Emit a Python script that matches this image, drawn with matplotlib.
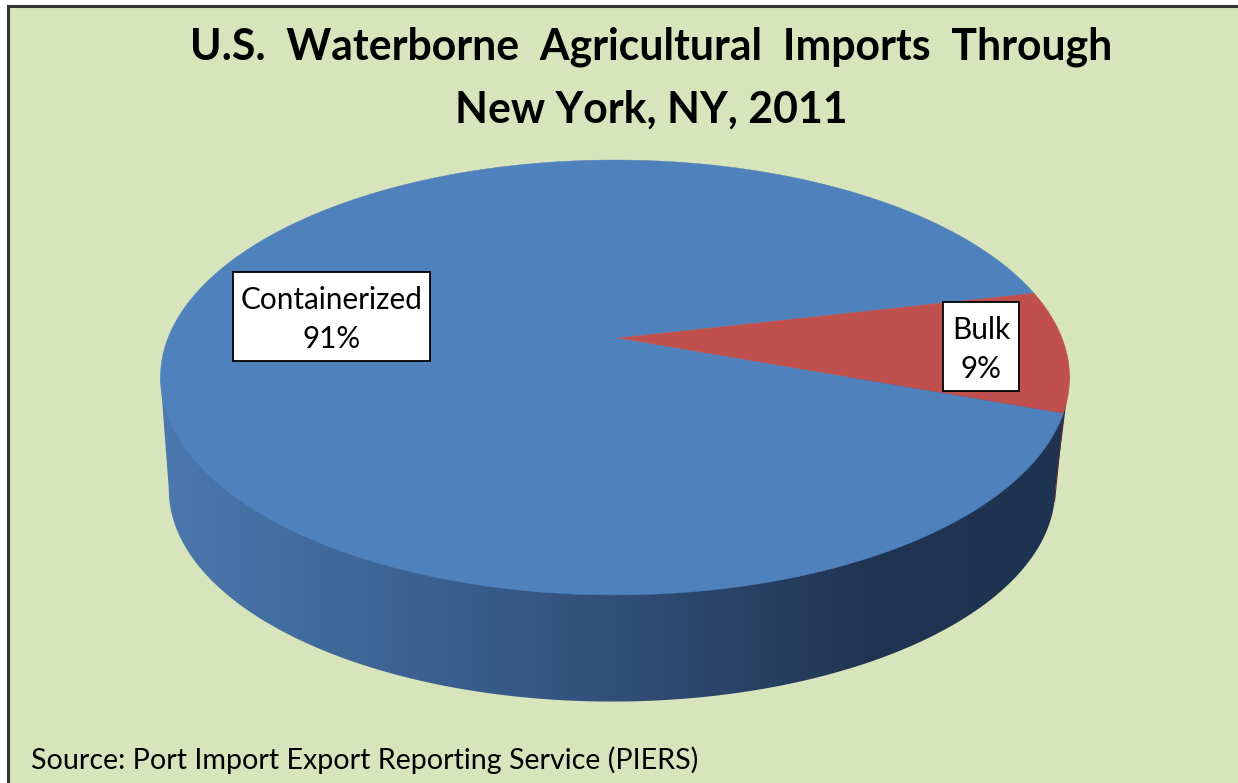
import numpy as np
import matplotlib
matplotlib.use('Agg')
import matplotlib.pyplot as plt
import matplotlib.patches as patches
from matplotlib.colors import LinearSegmentedColormap

# Data
categories = ['Containerized', 'Bulk']
shares = [91, 9]
slice_colors = ['#4f81bd', '#c0504d']

title_lines = ['U.S.  Waterborne  Agricultural  Imports  Through', 'New York, NY, 2011']
source_text = 'Source: Port Import Export Reporting Service (PIERS)'

# The picture is laid out in pixels
W, H = 1238, 783
fig = plt.figure(figsize=(W / 100, H / 100), dpi=100, facecolor='white')
ax = fig.add_axes([0, 0, 1, 1])
ax.set_xlim(0, W)
ax.set_ylim(H, 0)
ax.axis('off')

# Panel
panel = patches.Rectangle((8, 6), W + 20, H + 20, facecolor='#d8e4bc', edgecolor='#333333', linewidth=2.2, zorder=0)
ax.add_patch(panel)

# Perspective of the disc
apex_x, apex_y = 618, 338
disc_x = 615
disc_w, disc_h, persp = 447, 210.3, 0.1816
base_x, base_y, base_scale = 612, 451, 0.975


def project(angle_deg, x0=disc_x, y0=apex_y, scale=1.0):
    # angle runs counter-clockwise from 3 o'clock
    t = np.radians(angle_deg)
    c, s = np.cos(t), -np.sin(t)
    d = 1 - persp * s
    return x0 + scale * disc_w * c / d, y0 + scale * disc_h * s / d


# Side wall: the hull of the top disc and the base disc, with a gradient
tangent = np.degrees(np.arcsin(persp))
low_angles = np.linspace(-tangent, -180 + tangent, 400)
bx, by = project(low_angles, base_x, base_y, base_scale)
lx, ly = project(-180 + tangent)
rx, ry = project(-tangent)
wall_x = np.concatenate([[rx], bx, [lx]])
wall_y = np.concatenate([[ry], by, [ly]])
wall = patches.Polygon(np.column_stack([wall_x, wall_y]), closed=True, facecolor='none', edgecolor='none', zorder=1)
ax.add_patch(wall)

wall_cmap = LinearSegmentedColormap.from_list('wall', [
    (0.0, '#4b78ae'), (0.16, '#426c9d'), (0.38, '#375a88'),
    (0.62, '#2b4468'), (0.78, '#203552'), (1.0, '#1e3350')])
ramp = np.linspace(0, 1, 512).reshape(1, -1)
img = ax.imshow(ramp, cmap=wall_cmap, extent=[160, 1070, 710, 370], aspect='auto', zorder=1)
img.set_clip_path(wall)
ax.set_xlim(0, W)
ax.set_ylim(H, 0)

# Top face: Bulk starts above 3 o'clock and runs clockwise, the rest is Containerized
bulk_start = 12.8
bulk_sweep = 360 * shares[1] / sum(shares)
bulk_end = bulk_start - bulk_sweep
sweeps = {
    'Bulk': np.linspace(bulk_start, bulk_end, 60),
    'Containerized': np.linspace(bulk_end, bulk_end - (360 - bulk_sweep), 500),
}
for name, color in zip(categories, slice_colors):
    px, py = project(sweeps[name])
    ax.fill(np.r_[apex_x, px], np.r_[apex_y, py], facecolor=color, edgecolor=color, linewidth=0.3, zorder=2)

# Thin strip of the Bulk slice wall
sx, sy = project(bulk_end)
ex, ey = project(-tangent - 3, base_x, base_y, base_scale)
ax.plot([sx, ex], [sy, ey], color='#5a2a30', linewidth=0.8, zorder=1.5)

# Data labels
label_boxes = {'Containerized': (233, 272, 197, 89), 'Bulk': (943, 302, 76, 89)}
for name, share in zip(categories, shares):
    bx0, by0, bw, bh = label_boxes[name]
    ax.add_patch(patches.Rectangle((bx0, by0), bw, bh, facecolor='white', edgecolor='black', linewidth=1.3, zorder=3))
    ax.text(bx0 + bw / 2, by0 + 28, name, ha='center', va='center', fontsize=21.4, family='Lato', zorder=4)
    ax.text(bx0 + bw / 2, by0 + 67, f'{share}%', ha='center', va='center', fontsize=21.4, family='Lato', zorder=4)

# Title and source
ax.text(651, 47, title_lines[0], ha='center', va='center', fontsize=30.8, fontweight='bold', family='Lato', zorder=4)
ax.text(651, 110, title_lines[1], ha='center', va='center', fontsize=30.8, fontweight='bold', family='Lato', zorder=4)
ax.text(31, 760, source_text, ha='left', va='center', fontsize=20.6, family='Lato', zorder=4)

fig.savefig('out.png', dpi=100, facecolor='white')
